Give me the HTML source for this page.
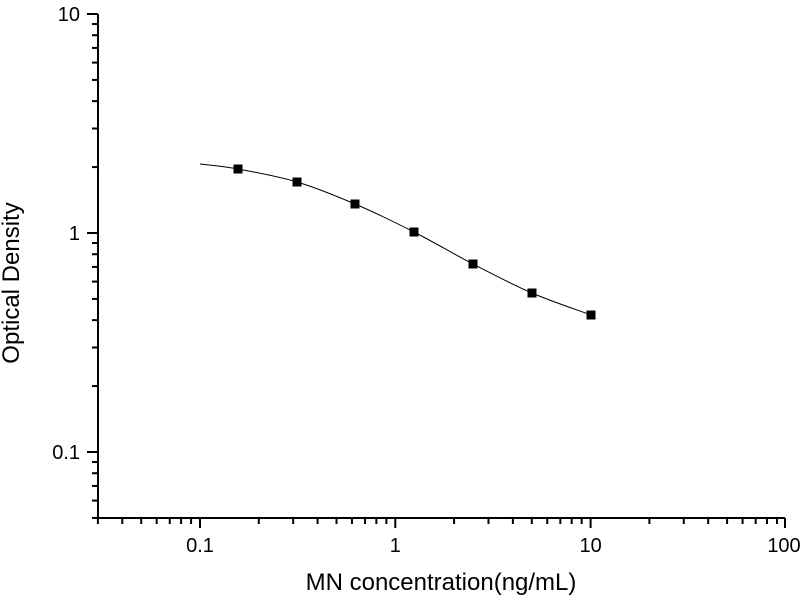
<!DOCTYPE html>
<html><head><meta charset="utf-8"><style>
html,body{margin:0;padding:0;background:#fff;}
svg{display:block;font-family:"Liberation Sans",Arial,sans-serif;}
</style></head><body>
<svg id="s" width="800" height="600" viewBox="0 0 800 600" xmlns="http://www.w3.org/2000/svg">
<g id="g" stroke="#000" fill="none"></g>
<text x="19" y="283" font-size="24" transform="rotate(-90 19 283)" text-anchor="middle" fill="#000">Optical Density</text>
<text x="441" y="590" font-size="24" text-anchor="middle" fill="#000">MN concentration(ng/mL)</text>
</svg>
<script>
const g=document.getElementById('g'),s=document.getElementById('s');
const X=v=>200+195.3*Math.log10(v/0.1), Y=v=>233-219*Math.log10(v);
let h='';
h+='<line x1="98" y1="14" x2="98" y2="519" stroke-width="2"/>';
h+='<line x1="97" y1="518" x2="785" y2="518" stroke-width="2"/>';
let t='';
for(let e=-2;e<=1;e++)for(let m=1;m<=9;m++){const v=m*Math.pow(10,e);const x=X(v);if(x<97||x>786)continue;
 const maj=m==1;h+=`<line x1="${x}" y1="518" x2="${x}" y2="${maj?528:524}" stroke-width="2"/>`;
 if(maj)t+=`<text x="${x}" y="552" font-size="20" text-anchor="middle">${v<1?v.toFixed(1):v}</text>`;}
h+=`<line x1="785" y1="518" x2="785" y2="528" stroke-width="2"/>`;
t+=`<text x="784" y="552" font-size="20" text-anchor="middle">100</text>`;
for(let e=-2;e<=1;e++)for(let m=1;m<=9;m++){const v=m*Math.pow(10,e);const y=Y(v);if(y<13||y>519)continue;
 const maj=m==1;h+=`<line x1="${maj?87:92}" y1="${y}" x2="98" y2="${y}" stroke-width="2"/>`;
 if(maj)t+=`<text x="80" y="${y+7}" font-size="20" text-anchor="end">${v<1?v.toFixed(1):v}</text>`;}
const ps=[[200,164],[238,169],[297,182],[355,204],[414,232],[473,264],[532,293],[591,315]];
let d=`M${ps[0][0]},${ps[0][1]}`;
for(let i=0;i<ps.length-1;i++){const p0=ps[Math.max(i-1,0)],p1=ps[i],p2=ps[i+1],p3=ps[Math.min(i+2,ps.length-1)];
 d+=` C${p1[0]+(p2[0]-p0[0])/6},${p1[1]+(p2[1]-p0[1])/6} ${p2[0]-(p3[0]-p1[0])/6},${p2[1]-(p3[1]-p1[1])/6} ${p2[0]},${p2[1]}`;}
h+=`<path d="${d}" stroke-width="1"/>`;
for(let i=1;i<ps.length;i++)h+=`<rect x="${ps[i][0]-4.5}" y="${ps[i][1]-4.5}" width="9" height="9" fill="#000" stroke="none"/>`;
g.innerHTML=h;
const tg=document.createElementNS('http://www.w3.org/2000/svg','g');tg.setAttribute('fill','#000');tg.innerHTML=t;s.appendChild(tg);
</script>
</body></html>
